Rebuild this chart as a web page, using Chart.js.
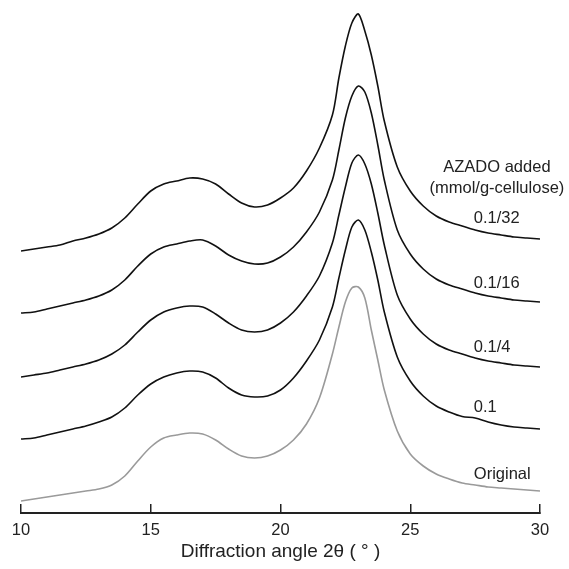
<!DOCTYPE html>
<html>
<head>
<meta charset="utf-8">
<script src="https://cdn.jsdelivr.net/npm/chart.js@4/dist/chart.umd.min.js"></script>
<style>
    html, body { margin: 0; padding: 0; background: #fff; }
    #wrap { width: 569px; height: 569px; }
</style>
</head>
<body>
<div id="wrap"><canvas id="xrdChart"></canvas></div>
<script>
// -----------------------------------------
// Daten (Intensität, a.u., gestapelt)
// -----------------------------------------
const theta = [10, 10.5, 11, 11.5, 12, 12.5, 13, 13.5, 14, 14.5, 15, 15.5, 16, 16.5, 17, 17.5, 18, 18.5, 19, 19.5,
    20, 20.5, 21, 21.5, 22, 22.25, 22.5, 22.75, 23, 23.25, 23.5, 23.75, 24, 24.5, 25, 25.5, 26, 26.5, 27, 27.5,
    28, 28.5, 29, 29.5, 30];

const azado_0_1_32 = [262, 264, 266, 268, 272, 275, 279, 285, 295, 309, 322, 329, 332, 335, 334, 329, 319, 310, 306, 308,
    315, 325, 342, 365, 398, 435, 467, 490, 499, 482, 458, 427, 392, 346, 322, 307, 297, 291, 287, 283,
    280, 278, 276, 275, 274];

const azado_0_1_16 = [200, 201, 204, 207, 210, 213, 217, 223, 233, 247, 259, 266, 269, 272, 273, 267, 258, 252, 249, 250,
    256, 266, 281, 301, 333, 363, 395, 417, 427, 421, 400, 368, 333, 283, 259, 244, 234, 228, 224, 220,
    217, 215, 213, 212, 211];

const azado_0_1_4 = [136, 138, 140, 143, 146, 149, 153, 159, 168, 181, 193, 201, 205, 207, 206, 199, 190, 183, 181, 183,
    190, 201, 217, 237, 270, 298, 326, 350, 358, 349, 329, 300, 268, 218, 194, 179, 169, 163, 159, 155,
    152, 150, 148, 147, 146];

const azado_0_1 = [74, 75, 78, 81, 84, 87, 91, 96, 105, 118, 129, 136, 140, 142, 141, 135, 125, 118, 116, 117,
    123, 135, 152, 173, 206, 235, 263, 286, 293, 283, 261, 233, 201, 156, 132, 117, 107, 101, 96.5, 95,
    91, 88, 86, 85, 84];

const original = [12, 14, 16, 18, 20, 22, 24, 28, 37, 52, 66, 75, 78, 80, 79, 73, 64, 57, 55, 57,
    63, 73, 89, 115, 159, 186, 211, 225, 226, 215, 183, 153, 123, 82, 59, 47, 39, 34, 30, 28,
    26, 25, 24, 23, 22];

const seriesNames = ["0.1/32", "0.1/16", "0.1/4", "0.1", "Original"];
const seriesData = [azado_0_1_32, azado_0_1_16, azado_0_1_4, azado_0_1, original];
const seriesColors = ["#111111", "#111111", "#111111", "#111111", "#9a9a9a"];

// Beschriftung rechts: Lage in Datenkoordinaten
const labelTheta = 27.45;
const labelLevels = [295, 230, 166, 106, 39];
const headerTheta = 28.34;
const headerLines = ["AZADO added", "(mmol/g-cellulose)"];
const headerLevels = [346, 325];

const xTicks = [10, 15, 20, 25, 30];

const FONT = '"Liberation Sans", Arial, Helvetica, sans-serif';


// -----------------------------------------
// Plugin für die Kurvenbeschriftung
// -----------------------------------------
const labelPlugin = {
    id: "curveLabels",
    afterDatasetsDraw(chart) {
        const ctx = chart.ctx;
        const xs = chart.scales.x;
        const ys = chart.scales.y;

        ctx.save();
        ctx.fillStyle = "#222";
        ctx.font = "16.5px " + FONT;
        ctx.textBaseline = "middle";

        ctx.textAlign = "center";
        headerLines.forEach((txt, i) => {
            ctx.fillText(txt, xs.getPixelForValue(headerTheta), ys.getPixelForValue(headerLevels[i]));
        });

        ctx.textAlign = "left";
        seriesNames.forEach((name, i) => {
            ctx.fillText(name, xs.getPixelForValue(labelTheta), ys.getPixelForValue(labelLevels[i]));
        });
        ctx.restore();
    }
};


// -----------------------------------------
// Diagramm initialisieren
// -----------------------------------------
function initChart() {
    const ctx = document.getElementById("xrdChart").getContext("2d");

    const datasets = seriesData.map((vals, i) => ({
        label: seriesNames[i],
        data: theta.map((t, j) => ({ x: t, y: vals[j] })),
        borderColor: seriesColors[i],
        borderWidth: 1.6,
        pointRadius: 0,
        tension: 0.3,
        fill: false
    }));

    new Chart(ctx, {
        type: "line",
        data: { datasets },
        options: {
            responsive: true,
            maintainAspectRatio: false,
            animation: false,
            layout: { padding: { left: 21, right: 29, top: 0, bottom: 0 } },
            plugins: {
                legend: { display: false },
                tooltip: { enabled: false }
            },
            scales: {
                x: {
                    type: "linear",
                    min: 10,
                    max: 30,
                    afterBuildTicks: (scale) => {
                        scale.ticks = xTicks.map(v => ({ value: v }));
                    },
                    afterFit: (scale) => {
                        scale.height = 56;
                        scale.paddingLeft = 0;
                        scale.paddingRight = 0;
                    },
                    ticks: {
                        color: "#222",
                        padding: 17,
                        font: { family: FONT, size: 16.5 }
                    },
                    grid: {
                        drawOnChartArea: false,
                        tickLength: -9,
                        color: "#222",
                        lineWidth: 1.5
                    },
                    border: { display: true, color: "#222", width: 2 },
                    title: {
                        display: true,
                        text: "Diffraction angle 2θ ( ° )",
                        color: "#222",
                        font: { family: FONT, size: 19 },
                        padding: { top: 0, bottom: 6 }
                    }
                },
                y: {
                    display: false,
                    min: 0,
                    max: 513
                }
            }
        },
        plugins: [labelPlugin]
    });
}

window.addEventListener("DOMContentLoaded", initChart);
</script>
</body>
</html>
